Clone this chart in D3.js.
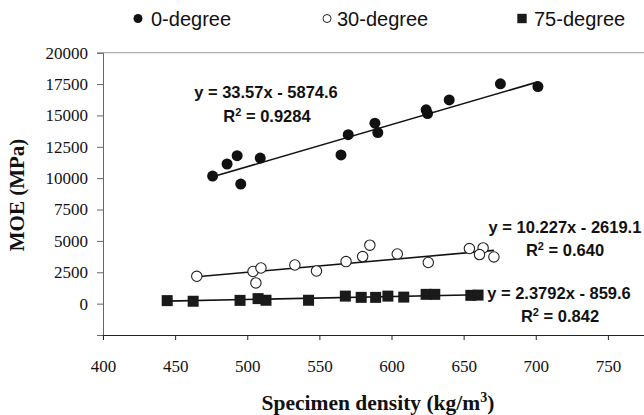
<!DOCTYPE html>
<html>
<head>
<meta charset="utf-8">
<script src="https://cdn.jsdelivr.net/npm/d3@7"></script>
<style>
  body { margin: 0; background: #fff; }
  svg { display: block; }
</style>
</head>
<body>
<div class="container"></div>
<script>
const w = 644;
const h = 415;

// density (kg/m3) and MOE (MPa)
const deg0X = [476, 486, 493, 495.5, 509, 565, 570, 588.5, 590.5, 624, 625, 640, 675.5, 701.5];
const deg0Y = [10170, 11130, 11790, 9530, 11600, 11850, 13470, 14380, 13630, 15450, 15150, 16240, 17520, 17300];
const deg30X = [465, 504, 506, 509.5, 533, 548, 568.5, 580, 585, 604, 625.5, 654, 663.5, 661, 671];
const deg30Y = [2180, 2560, 1650, 2840, 3080, 2600, 3350, 3750, 4660, 3960, 3280, 4390, 4440, 3910, 3720];
const deg75X = [444.5, 462.5, 495, 507.5, 513, 542.5, 568, 579, 589, 597.5, 608.5, 624, 630, 655, 660];
const deg75Y = [240, 190, 260, 400, 270, 270, 600, 500, 500, 600, 520, 740, 740, 660, 680];

const seriesNames = ['0-degree', '30-degree', '75-degree'];
const slopes = [33.57, 10.227, 2.3792];
const intercepts = [-5874.6, -2619.1, -859.6];
const eqLabels = ['y = 33.57x - 5874.6', 'y = 10.227x - 2619.1', 'y = 2.3792x - 859.6'];
const r2Labels = ['0.9284', '0.640', '0.842'];

const xTicks = [400, 450, 500, 550, 600, 650, 700, 750];
const yTicks = [-2500, 0, 2500, 5000, 7500, 10000, 12500, 15000, 17500, 20000];

let svg = null;
const x = d3.scaleLinear().domain([400, 800]).range([103, 680]);
const y = d3.scaleLinear().domain([-2500, 20000]).range([335, 52.7]);

window.onload = function () {
  setSvg();
  drawAxes();
  drawSeries();
  drawLabels();
  drawLegend();
};

function setSvg() {
  svg = d3.select('.container').append('svg').attr('width', w).attr('height', h);
}

function drawAxes() {
  // top border of the plot area
  svg.append('line')
    .attr('x1', x(400)).attr('x2', x(800))
    .attr('y1', y(20000)).attr('y2', y(20000))
    .attr('stroke', '#b0b0b0').attr('stroke-width', 1.2);

  const yAxis = svg.append('g')
    .attr('transform', `translate(${x(400)},0)`)
    .call(d3.axisLeft(y).tickValues(yTicks).tickSize(6).tickPadding(9)
      .tickFormat((d) => (d < 0 ? '' : d)));
  yAxis.select('.domain').attr('stroke', '#666');
  yAxis.selectAll('.tick line').attr('stroke', '#666');

  const xAxis = svg.append('g')
    .attr('transform', `translate(0,${y(-2500)})`)
    .call(d3.axisBottom(x).tickValues(xTicks).tickSize(5).tickPadding(20));
  xAxis.select('.domain').attr('stroke', '#222');
  xAxis.selectAll('.tick line').attr('stroke', '#222');

  svg.selectAll('.tick text')
    .attr('font-family', '"Liberation Serif", "Times New Roman", serif')
    .attr('font-size', 17)
    .attr('fill', '#111');

  svg.append('text')
    .attr('x', 378).attr('y', 410)
    .attr('text-anchor', 'middle')
    .attr('font-family', '"Liberation Serif", serif')
    .attr('font-weight', 'bold').attr('font-size', 21.5)
    .attr('fill', '#111')
    .html('Specimen density (kg/m<tspan dy="-8" font-size="14">3</tspan><tspan dy="8">)</tspan>');

  svg.append('text')
    .attr('transform', 'translate(24,195) rotate(-90)')
    .attr('text-anchor', 'middle')
    .attr('font-family', '"Liberation Serif", serif')
    .attr('font-weight', 'bold').attr('font-size', 21)
    .attr('fill', '#111')
    .text('MOE (MPa)');
}

function drawSeries() {
  const xs = [deg0X, deg30X, deg75X];
  const line = d3.line().x((d) => x(d[0])).y((d) => y(d[1]));

  xs.forEach((arr, i) => {
    const ext = d3.extent(arr);
    const pts = ext.map((v) => [v, slopes[i] * v + intercepts[i]]);
    svg.append('path')
      .attr('d', line(pts))
      .attr('fill', 'none')
      .attr('stroke', '#111')
      .attr('stroke-width', 1.6);
  });

  svg.selectAll('circle.d0')
    .data(d3.zip(deg0X, deg0Y))
    .enter()
    .append('circle')
    .attr('class', 'd0')
    .attr('cx', (d) => x(d[0]))
    .attr('cy', (d) => y(d[1]))
    .attr('r', 5.5)
    .attr('fill', '#111');

  svg.selectAll('circle.d30')
    .data(d3.zip(deg30X, deg30Y))
    .enter()
    .append('circle')
    .attr('class', 'd30')
    .attr('cx', (d) => x(d[0]))
    .attr('cy', (d) => y(d[1]))
    .attr('r', 5.2)
    .attr('fill', '#fff')
    .attr('stroke', '#222')
    .attr('stroke-width', 1.1);

  svg.selectAll('rect.d75')
    .data(d3.zip(deg75X, deg75Y))
    .enter()
    .append('rect')
    .attr('class', 'd75')
    .attr('x', (d) => x(d[0]) - 5.5)
    .attr('y', (d) => y(d[1]) - 5.5)
    .attr('width', 11)
    .attr('height', 11)
    .attr('fill', '#1a1a1a');
}

function drawLabels() {
  const pos = [
    [266, 98, 267, 122],
    [565, 233, 565, 256],
    [559, 299, 560, 322],
  ];
  pos.forEach((p, i) => {
    svg.append('text')
      .attr('x', p[0]).attr('y', p[1])
      .attr('text-anchor', 'middle')
      .attr('font-family', '"Liberation Sans", Arial, sans-serif')
      .attr('font-weight', 'bold').attr('font-size', 16.5)
      .attr('fill', '#111')
      .text(eqLabels[i]);
    svg.append('text')
      .attr('x', p[2]).attr('y', p[3])
      .attr('text-anchor', 'middle')
      .attr('font-family', '"Liberation Sans", Arial, sans-serif')
      .attr('font-weight', 'bold').attr('font-size', 16.5)
      .attr('fill', '#111')
      .html(`R<tspan dy="-6" font-size="11">2</tspan><tspan dy="6"> = ${r2Labels[i]}</tspan>`);
  });
}

function drawLegend() {
  const items = [
    { mx: 138, tx: 151 },
    { mx: 327, tx: 337 },
    { mx: 522, tx: 534 },
  ];
  const g = svg.append('g');
  g.append('circle').attr('cx', items[0].mx).attr('cy', 18.5).attr('r', 4.5).attr('fill', '#111');
  g.append('circle').attr('cx', items[1].mx).attr('cy', 18.5).attr('r', 4)
    .attr('fill', '#fff').attr('stroke', '#222').attr('stroke-width', 1);
  g.append('rect').attr('x', items[2].mx - 4.7).attr('y', 13.8).attr('width', 9.4).attr('height', 9.4)
    .attr('fill', '#1a1a1a');
  items.forEach((it, i) => {
    g.append('text')
      .attr('x', it.tx).attr('y', 26)
      .attr('font-family', '"Liberation Sans", Arial, sans-serif')
      .attr('font-size', 20)
      .attr('fill', '#111')
      .text(seriesNames[i]);
  });
}
</script>
</body>
</html>
